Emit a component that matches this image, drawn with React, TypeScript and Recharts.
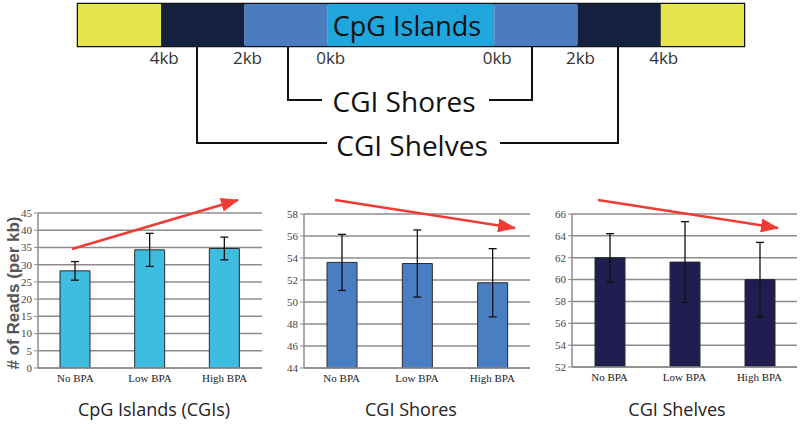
import React from 'react';
import {
  BarChart,
  Bar,
  XAxis,
  YAxis,
  CartesianGrid,
  ErrorBar,
  ReferenceArea,
} from 'recharts';

// Region diagram (lengths in 2kb units)
const regionNames = ['seaL', 'shelfL', 'shoreL', 'island', 'shoreR', 'shelfR', 'seaR'];
const regionLengths = [2, 2, 2, 4, 2, 2, 2];
const boundaryTicks = [2, 4, 6, 10, 12, 14];
const boundaryLabels = ['4kb', '2kb', '0kb', '0kb', '2kb', '4kb'];

// Bar panels
const categories = ['No BPA', 'Low BPA', 'High BPA'];
const cgiReads = [28.2, 34.3, 34.7];
const cgiErr = [2.7, 4.8, 3.3];
const shoreReads = [53.6, 53.5, 51.75];
const shoreErr = [2.55, 3.05, 3.1];
const shelfReads = [62.0, 61.6, 60.0];
const shelfErr = [2.2, 3.7, 3.4];
const cgiTicks = [0, 5, 10, 15, 20, 25, 30, 35, 40, 45];
const shoreTicks = [44, 46, 48, 50, 52, 54, 56, 58];
const shelfTicks = [52, 54, 56, 58, 60, 62, 64, 66];

const regionColors: Record<string, string> = {
  seaL: '#e6e64c',
  shelfL: '#142141',
  shoreL: '#4a7cbe',
  island: '#1fa6dc',
  shoreR: '#4a7cbe',
  shelfR: '#142141',
  seaR: '#e6e64c',
};

const regionRow: Record<string, number | string> = { name: 'region' };
regionNames.forEach((n, i) => (regionRow[n] = regionLengths[i]));

const toRows = (vals: number[], errs: number[]) =>
  categories.map((c, i) => ({ cat: c, reads: vals[i], err: errs[i] }));

const sans = '"Open Sans", "Noto Sans", sans-serif';
const serif = '"Liberation Serif", "DejaVu Serif", serif';

type PanelProps = {
  left: number;
  width: number;
  axisWidth: number;
  mTop: number;
  mBottom: number;
  rows: { cat: string; reads: number; err: number }[];
  domain: [number, number];
  ticks: number[];
  color: string;
};

const Panel = ({ left, width, axisWidth, mTop, mBottom, rows, domain, ticks, color }: PanelProps) => (
  <div style={{ position: 'absolute', left, top: 200 }}>
    <BarChart
      width={width}
      height={200}
      data={rows}
      margin={{ top: mTop, right: 0, bottom: mBottom, left: 0 }}
      barSize={30}
    >
      <CartesianGrid vertical={false} stroke="#8c8c8c" strokeWidth={1.5} />
      <XAxis
        dataKey="cat"
        height={20}
        tickLine={false}
        tickSize={4}
        tickMargin={2}
        axisLine={{ stroke: '#8c8c8c', strokeWidth: 1.5 }}
        tick={{ fontFamily: serif, fontSize: 11, fill: '#222' }}
      />
      <YAxis
        width={axisWidth}
        domain={domain}
        ticks={ticks}
        interval={0}
        tickSize={4}
        tickMargin={2}
        axisLine={{ stroke: '#8c8c8c', strokeWidth: 1.5 }}
        tickLine={{ stroke: '#8c8c8c' }}
        tick={{ fontFamily: serif, fontSize: 11, fill: '#444' }}
        allowDataOverflow
      />
      <Bar dataKey="reads" fill={color} stroke="#2a2a2a" strokeWidth={1} isAnimationActive={false}>
        <ErrorBar dataKey="err" width={4} stroke="#111" strokeWidth={1.3} />
      </Bar>
    </BarChart>
  </div>
);

export default function App() {
  return (
    <div
      style={{
        position: 'absolute',
        left: 0,
        top: 0,
        width: 800,
        height: 432,
        background: '#fff',
        overflow: 'hidden',
      }}
    >
      <div style={{ position: 'absolute', left: 0, top: 0 }}>
        <BarChart
          width={800}
          height={70}
          layout="vertical"
          data={[regionRow]}
          margin={{ top: 4, right: 56, bottom: 0, left: 78 }}
          barCategoryGap={0}
        >
          <XAxis
            type="number"
            domain={[0, 16]}
            ticks={boundaryTicks}
            height={24}
            axisLine={false}
            tickLine={false}
            tickSize={5}
            tickMargin={1}
            tickFormatter={(v: number) => boundaryLabels[boundaryTicks.indexOf(v)]}
            tick={{ fontFamily: sans, fontSize: 17, fill: '#333', dx: 3 }}
          />
          <YAxis type="category" dataKey="name" hide />
          {regionNames.map((n) => (
            <Bar key={n} dataKey={n} stackId="a" fill={regionColors[n]} isAnimationActive={false} />
          ))}
          <ReferenceArea x1={0} x2={2} fill="none" stroke="#111" strokeWidth={1.5} ifOverflow="visible" />
          <ReferenceArea x1={14} x2={16} fill="none" stroke="#111" strokeWidth={1.5} ifOverflow="visible" />
          <ReferenceArea x1={0} x2={16} fill="none" stroke="#111" strokeWidth={2.5} ifOverflow="visible" />
        </BarChart>
      </div>

      <Panel left={0} width={262} axisWidth={38} mTop={13} mBottom={12}
        rows={toRows(cgiReads, cgiErr)} domain={[0, 45]} ticks={cgiTicks} color="#3ebde0" />
      <Panel left={260} width={270} axisWidth={44} mTop={14} mBottom={12}
        rows={toRows(shoreReads, shoreErr)} domain={[44, 58]} ticks={shoreTicks} color="#4a7ec2" />
      <Panel left={530} width={267} axisWidth={42} mTop={14} mBottom={13}
        rows={toRows(shelfReads, shelfErr)} domain={[52, 66]} ticks={shelfTicks} color="#201d50" />

      <svg width={800} height={432} style={{ position: 'absolute', left: 0, top: 0, pointerEvents: 'none' }}>
        <defs>
          <marker id="arrowhead" markerUnits="userSpaceOnUse" markerWidth={18} markerHeight={14}
            refX={17} refY={7} orient="auto">
            <path d="M0,0 L18,7 L0,14 Z" fill="#ee3b33" />
          </marker>
        </defs>
        <text x={407} y={25} textAnchor="middle" dominantBaseline="central"
          fontFamily={sans} fontSize={27} fill="#111">CpG Islands</text>

        {/* brackets */}
        <g stroke="#111" strokeWidth={2} fill="none">
          <path d="M288,46 V100 H322" />
          <path d="M489,100 H532 V46" />
          <path d="M197,46 V143 H327" />
          <path d="M500,143 H618 V46" />
        </g>
        <text x={404} y={101} textAnchor="middle" dominantBaseline="central"
          fontFamily={sans} fontSize={28} fill="#111">CGI Shores</text>
        <text x={412} y={145} textAnchor="middle" dominantBaseline="central"
          fontFamily={sans} fontSize={28} fill="#111">CGI Shelves</text>

        {/* trend arrows */}
        <g stroke="#ee3b33" strokeWidth={2.5} markerEnd="url(#arrowhead)">
          <line x1={72} y1={249} x2={238} y2={200} />
          <line x1={335} y1={200} x2={515} y2={228} />
          <line x1={598} y1={200} x2={778} y2={228} />
        </g>

        <text transform="translate(13,293) rotate(-90)" textAnchor="middle" dominantBaseline="central"
          fontFamily='"Liberation Sans", Arial, sans-serif' fontWeight="bold" fontSize={17} fill="#555">
          # of Reads (per kb)
        </text>

        <g fontFamily={sans} fontSize={18} fill="#222" textAnchor="middle">
          <text x={154} y={416}>CpG Islands (CGIs)</text>
          <text x={411} y={416}>CGI Shores</text>
          <text x={677} y={416}>CGI Shelves</text>
        </g>
      </svg>
    </div>
  );
}
